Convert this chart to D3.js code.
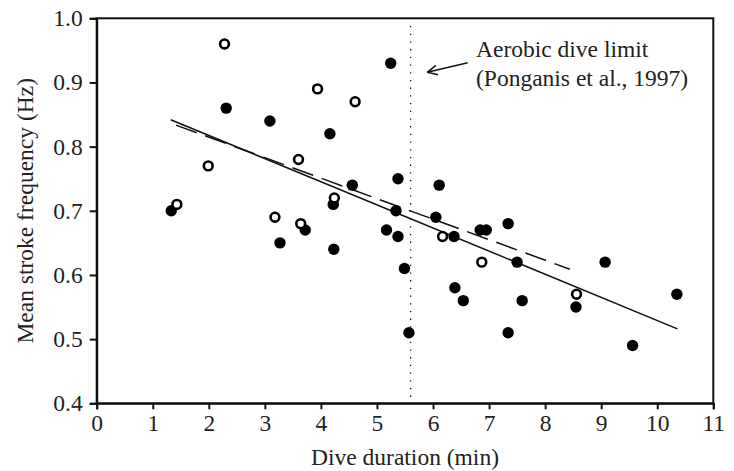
<!DOCTYPE html>
<html>
<head>
<meta charset="utf-8">
<script src="https://cdn.jsdelivr.net/npm/d3@7"></script>
<style>
  body { margin: 0; background: #fff; }
  svg text { font-family: "Liberation Serif", "DejaVu Serif", serif; fill: #222; }
</style>
</head>
<body>
<svg id="chart" width="734" height="471"></svg>
<script>
// filled symbols
const filledX = [1.33, 2.31, 3.09, 3.27, 3.72, 4.16, 4.22, 4.23, 4.56, 5.17, 5.245, 5.34, 5.375, 5.375, 5.49, 5.57,
                 6.05, 6.11, 6.375, 6.39, 6.54, 6.84, 6.95, 7.34, 7.34, 7.5, 7.59, 8.55, 9.07, 9.56, 10.35];
const filledY = [0.70, 0.86, 0.84, 0.65, 0.67, 0.82, 0.71, 0.64, 0.74, 0.67, 0.93, 0.70, 0.75, 0.66, 0.61, 0.51,
                 0.69, 0.74, 0.66, 0.58, 0.56, 0.67, 0.67, 0.68, 0.51, 0.62, 0.56, 0.55, 0.62, 0.49, 0.57];
// open symbols
const openX = [1.43, 1.99, 2.28, 3.18, 3.6, 3.64, 3.94, 4.24, 4.61, 6.17, 6.87, 8.56];
const openY = [0.71, 0.77, 0.96, 0.69, 0.78, 0.68, 0.89, 0.72, 0.87, 0.66, 0.62, 0.57];

// regression lines (end points)
const solidFit = [[1.32, 0.842], [10.36, 0.516]];
const dashedFit = [[1.415, 0.8335], [8.44, 0.609]];

const adl = 5.6;
const xTicks = d3.range(0, 12);
const yTicks = [0.4, 0.5, 0.6, 0.7, 0.8, 0.9, 1.0];

const margin = {top: 18.3, right: 20.7, bottom: 67.7, left: 96.7};
const width = 734, height = 471;
const fontSize = 23.5;

const svg = d3.select("#chart");
const x = d3.scaleLinear().domain([0, 11]).range([margin.left, width - margin.right]);
const y = d3.scaleLinear().domain([0.4, 1.0]).range([height - margin.bottom, margin.top]);

// frame
svg.append("rect")
    .attr("x", x(0)).attr("y", y(1))
    .attr("width", x(11) - x(0)).attr("height", y(0.4) - y(1))
    .attr("fill", "none").attr("stroke", "#111").attr("stroke-width", 2);

const xAxis = svg.append("g")
    .attr("transform", `translate(0,${y(0.4)})`)
    .call(d3.axisBottom(x).tickValues(xTicks).tickFormat(d3.format("d")).tickSize(6).tickPadding(5));
const yAxis = svg.append("g")
    .attr("transform", `translate(${x(0)},0)`)
    .call(d3.axisLeft(y).tickValues(yTicks).tickFormat(d3.format(".1f")).tickSize(7).tickPadding(7));

[xAxis, yAxis].forEach(g => {
    g.select(".domain").attr("stroke", "#111").attr("stroke-width", 2);
    g.selectAll(".tick line").attr("stroke", "#111").attr("stroke-width", 2);
    g.selectAll(".tick text").attr("font-size", fontSize).attr("font-family", "Liberation Serif").attr("fill", "#222");
});

// axis titles
svg.append("text")
    .attr("x", (x(0) + x(11)) / 2).attr("y", 465)
    .attr("text-anchor", "middle").attr("font-size", fontSize)
    .text("Dive duration (min)");
svg.append("text")
    .attr("transform", `translate(33,${(y(0.4) + y(1)) / 2}) rotate(-90)`)
    .attr("text-anchor", "middle").attr("font-size", fontSize)
    .text("Mean stroke frequency (Hz)");

// aerobic dive limit
svg.append("line")
    .attr("x1", x(adl)).attr("x2", x(adl))
    .attr("y1", 26).attr("y2", 397)
    .attr("stroke", "#111").attr("stroke-width", 1.3)
    .attr("stroke-dasharray", "1.3,6.4");

// fits
const line = d3.line().x(d => x(d[0])).y(d => y(d[1]));
svg.append("path").attr("d", line(solidFit))
    .attr("fill", "none").attr("stroke", "#111").attr("stroke-width", 1.5);
svg.append("path").attr("d", line(dashedFit))
    .attr("fill", "none").attr("stroke", "#111").attr("stroke-width", 1.5)
    .attr("stroke-dasharray", "22,9");

// points
svg.append("g").selectAll("circle")
    .data(d3.zip(filledX, filledY))
    .join("circle")
    .attr("cx", d => x(d[0])).attr("cy", d => y(d[1]))
    .attr("r", 5.7).attr("fill", "#000");
svg.append("g").selectAll("circle")
    .data(d3.zip(openX, openY))
    .join("circle")
    .attr("cx", d => x(d[0])).attr("cy", d => y(d[1]))
    .attr("r", 4.4).attr("fill", "#fff").attr("stroke", "#000").attr("stroke-width", 2.6);

// annotation
const tip = [427.3, 72.3], tail = [467.7, 62.7];
svg.append("line")
    .attr("x1", tail[0]).attr("y1", tail[1]).attr("x2", tip[0]).attr("y2", tip[1])
    .attr("stroke", "#111").attr("stroke-width", 1.5);
const ang = Math.atan2(tail[1] - tip[1], tail[0] - tip[0]);
[-0.45, 0.45].forEach(a => {
    svg.append("line")
        .attr("x1", tip[0]).attr("y1", tip[1])
        .attr("x2", tip[0] + 11 * Math.cos(ang + a)).attr("y2", tip[1] + 11 * Math.sin(ang + a))
        .attr("stroke", "#111").attr("stroke-width", 1.5);
});
svg.append("text").attr("x", 476).attr("y", 57).attr("font-size", fontSize).text("Aerobic dive limit");
svg.append("text").attr("x", 476).attr("y", 86).attr("font-size", fontSize).text("(Ponganis et al., 1997)");
</script>
</body>
</html>
